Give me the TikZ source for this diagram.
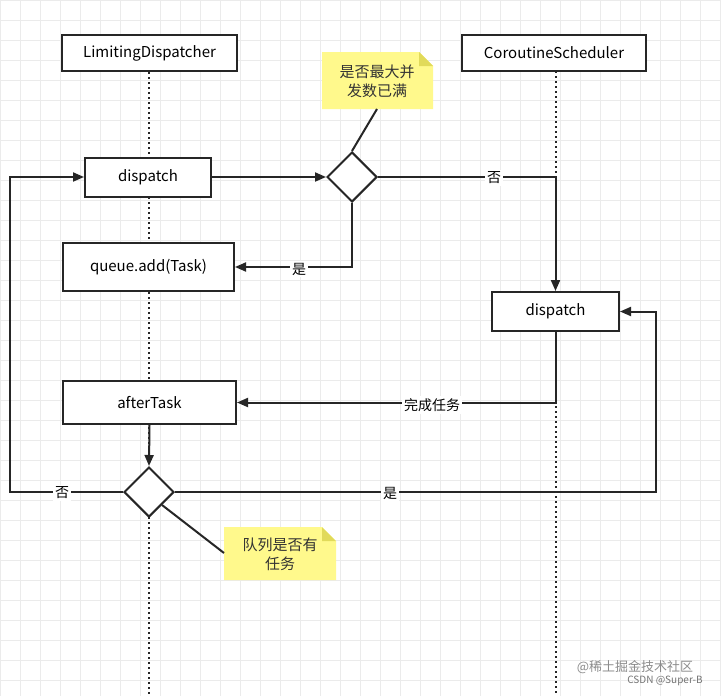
\documentclass[tikz,border=0pt]{standalone}
\usepackage{fontspec}
\setmainfont{Noto Sans CJK SC}
\usetikzlibrary{shapes.geometric,arrows.meta}
\begin{document}
\begin{tikzpicture}[x=1pt,y=-1pt,
  box/.style={draw=black!85,line width=2pt,fill=white,inner sep=0pt,font=\fontsize{15}{17}\selectfont},
  dia/.style={draw=black!85,line width=2pt,fill=white,diamond,minimum width=50pt,minimum height=50pt,inner sep=0pt},
  ln/.style={draw=black!85,line width=2pt},
  arr/.style={ln,-{Triangle[length=11pt,width=9pt]}},
  life/.style={draw=black!85,line width=2pt,dash pattern=on 2pt off 3pt},
  lab/.style={fill=white,inner sep=2pt,font=\fontsize{14}{16}\selectfont},
  notetxt/.style={font=\fontsize{15}{19}\selectfont,align=center,text=black!80}]
\useasboundingbox (0,0) rectangle (721,696);
\fill[white] (0,0) rectangle (721,696);
\foreach \i in {0,20,...,720} \draw[black!8,line width=0.5pt] (\i,0) -- (\i,696);
\foreach \j in {0,20,...,680} \draw[black!8,line width=0.5pt] (0,\j) -- (721,\j);
% lifelines
\coordinate (l1) at (149,696); \coordinate (l2) at (556,696);
\node[box,minimum width=175pt,minimum height=36pt] (ld) at (149.5,53) {LimitingDispatcher};
\node[box,minimum width=184pt,minimum height=36pt] (cs) at (554,53) {CoroutineScheduler};
\draw[life] (ld.south -| l1) -- (l1);
\draw[life] (556,71) -- (l2);
% nodes
\node[box,minimum width=126pt,minimum height=39pt] (d1) at (148,177) {dispatch};
\node[dia] (q1) at (352,177) {};
\node[box,minimum width=171pt,minimum height=48pt] (qa) at (148.5,267) {queue.add(Task)};
\node[box,minimum width=127pt,minimum height=39pt] (d2) at (555.5,311.5) {dispatch};
\node[box,minimum width=173pt,minimum height=43pt] (at) at (149.5,402.5) {afterTask};
\node[dia] (q2) at (149,492) {};
% notes
\fill[yellow!45] (322,52) -- (419,52) -- (433,66) -- (433,109) -- (322,109) -- cycle;
\fill[olive!45!yellow!60] (419,52) -- (433,66) -- (419,66) -- cycle;
\node[notetxt] (n1) at (377,81) {是否最大并\\发数已满};
\fill[yellow!45] (224,527) -- (322,527) -- (336,541) -- (336,580) -- (224,580) -- cycle;
\fill[olive!45!yellow!60] (322,527) -- (336,541) -- (322,541) -- cycle;
\node[notetxt] (n2) at (280,554) {队列是否有\\任务};
\coordinate (n1b) at (377,109);
\coordinate (n2l) at (224,553);
\draw[ln] (n1b) -- (q1.north);
\draw[ln] (q2.south east) -- (n2l);
% connectors
\draw[arr] (d1.east) -- (q1.west);
\draw[arr] (q1.east) -- (q1.east -| d2.north) -- (d2.north);
\node[lab] at (494,178) {否};
\draw[arr] (q1.south) |- (qa.east);
\node[lab] at (299,269) {是};
\draw[arr] (d2.south) |- (at.east);
\node[lab] at (432,405) {完成任务};
\draw[arr] (at.south) -- (q2.north);
\coordinate (lx) at (10,492);
\draw[arr] (q2.west) -- (lx) |- (d1.west);
\node[lab] at (62,493) {否};
\coordinate (rx) at (656,492);
\draw[arr] (q2.east) -- (rx) |- (d2.east);
\node[lab] at (390,493) {是};
% watermark
\node[text=black!45,font=\fontsize{13}{15}\selectfont] (w1) at (635,667) {@稀土掘金技术社区};
\node[text=black!55,font=\fontsize{10}{12}\selectfont] (w2) at (665,681) {CSDN @Super-B};
\end{tikzpicture}
\end{document}
